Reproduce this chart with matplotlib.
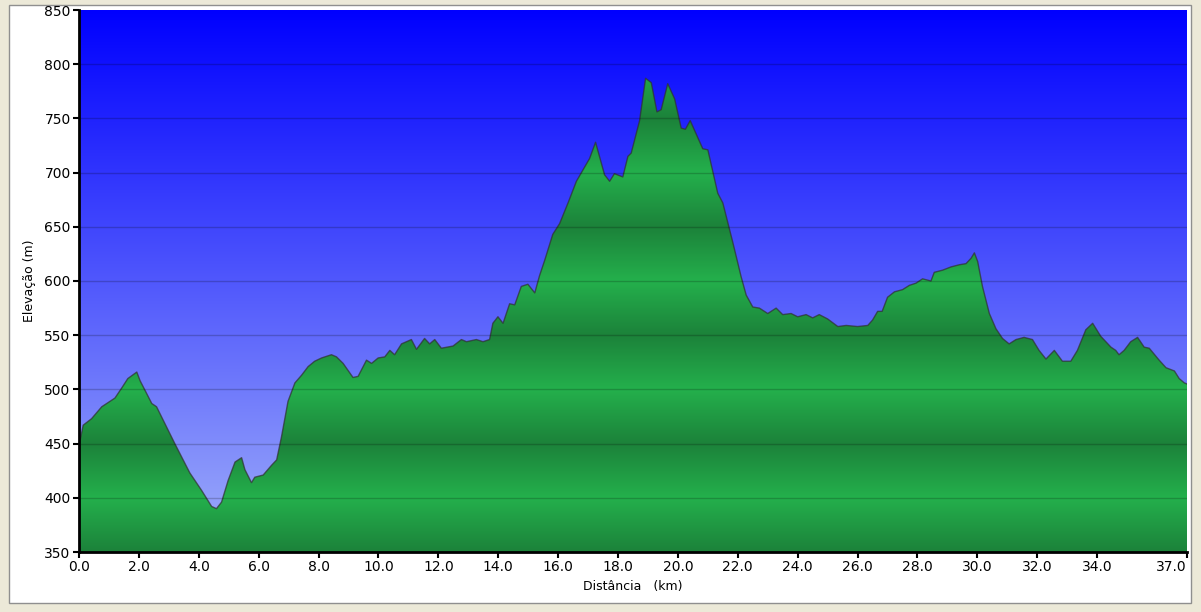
"""Elevation profile: distance (km) vs elevation (m)."""

import matplotlib
matplotlib.use("Agg")
import matplotlib.pyplot as plt
from matplotlib.patches import Rectangle
import numpy as np

plt.rcParams.update({
    "font.family": "DejaVu Sans",
    "xtick.labelsize": 10,
    "ytick.labelsize": 10,
})

distance_km = [
    0.00, 0.14, 0.42, 0.76, 1.20, 1.42, 1.63, 1.93, 2.04, 2.43, 2.59, 3.20,
    3.70, 4.09, 4.43, 4.59, 4.76, 4.98, 5.21, 5.43, 5.54, 5.76, 5.87, 6.15,
    6.43, 6.60, 6.76, 6.98, 7.21, 7.43, 7.65, 7.87, 8.10, 8.43, 8.60, 8.82,
    9.15, 9.32, 9.60, 9.77, 9.99, 10.21, 10.38, 10.54, 10.77, 11.10, 11.27,
    11.54, 11.71, 11.88, 12.10, 12.49, 12.77, 12.94, 13.27, 13.49, 13.71,
    13.82, 13.99, 14.16, 14.38, 14.55, 14.77, 14.99, 15.22, 15.38, 15.55,
    15.82, 16.05, 16.33, 16.61, 16.88, 17.05, 17.25, 17.38, 17.55, 17.72,
    17.88, 18.16, 18.33, 18.44, 18.72, 18.92, 19.11, 19.30, 19.44, 19.66,
    19.89, 20.11, 20.25, 20.41, 20.83, 21.00, 21.33, 21.50, 21.83, 22.11,
    22.28, 22.50, 22.72, 23.00, 23.28, 23.50, 23.78, 24.00, 24.28, 24.50,
    24.72, 25.00, 25.34, 25.62, 26.00, 26.34, 26.50, 26.67, 26.82, 27.00,
    27.23, 27.50, 27.73, 27.95, 28.17, 28.45, 28.56, 28.84, 29.12, 29.40,
    29.62, 29.79, 29.90, 30.01, 30.17, 30.40, 30.62, 30.84, 31.06, 31.29,
    31.56, 31.84, 32.06, 32.29, 32.57, 32.84, 33.12, 33.34, 33.62, 33.85,
    34.12, 34.46, 34.62, 34.73, 34.90, 35.12, 35.35, 35.57, 35.74, 36.07,
    36.30, 36.58, 36.74, 36.91, 37.00,
]
elevation_m = [
    448, 467, 473, 484, 492, 501, 510, 516, 508, 487, 484, 450,
    423, 407, 392, 390, 396, 416, 433, 437, 426, 414, 419, 421,
    430, 435, 456, 489, 506, 513, 521, 526, 529, 532, 530, 524,
    511, 512, 527, 524, 529, 530, 536, 532, 542, 546, 537,
    547, 542, 546, 538, 540, 546, 544, 546, 544, 546,
    561, 567, 561, 579, 578, 595, 597, 589, 605, 619,
    643, 653, 672, 692, 705, 713, 728, 715, 698, 692,
    699, 696, 715, 718, 748, 787, 783, 756, 758, 782,
    768, 741, 740, 748, 722, 721, 681, 672, 636, 604,
    587, 576, 575, 570, 575, 569, 570, 567, 569, 566,
    569, 565, 558, 559, 558, 559, 564, 572, 572, 585,
    590, 592, 596, 598, 602, 600, 608, 610, 613, 615,
    616, 621, 626, 618, 595, 570, 556, 547, 542, 546,
    548, 546, 536, 528, 536, 526, 526, 536, 555, 561,
    549, 539, 536, 532, 536, 544, 548, 539, 538, 527,
    520, 517, 510, 506, 505,
]

x_ticks = [0, 2, 4, 6, 8, 10, 12, 14, 16, 18, 20, 22, 24, 26, 28, 30, 32, 34, 37]
y_ticks = list(range(350, 851, 50))

fig = plt.figure(figsize=(12.01, 6.12), dpi=100)
fig.patch.set_facecolor("#ECE9D8")
# white panel behind the chart
fig.add_artist(Rectangle((9 / 1201, 1 - 603 / 612), (1191 - 9) / 1201, (603 - 5) / 612,
                         transform=fig.transFigure, facecolor="white",
                         edgecolor="#8f8f8f", linewidth=1, zorder=-1))

ax = fig.add_axes([79 / 1201, 1 - 552 / 612, (1187 - 79) / 1201, (552 - 10) / 612])
xmin, xmax = 0, 37.0
ymin, ymax = 350, 850

# sky gradient, pure blue at the top
t = np.linspace(0, 1, 256)[:, None]
top = np.array([0, 0, 255]) / 255
bot = np.array([160, 175, 250]) / 255
sky = (top + (bot - top) * t).reshape(256, 1, 3)
ax.imshow(sky, extent=[xmin, xmax, ymin, ymax], aspect="auto", zorder=0)

# banded green fill (light at hundreds, dark at fifties)
yy = np.linspace(ymin, ymax, 1000)
phase = np.abs(((yy - 350) % 100) - 50) / 50
light = np.array([36, 176, 76]) / 255
dark = np.array([28, 130, 58]) / 255
band = light + (dark - light) * phase[:, None]
band = band[::-1].reshape(-1, 1, 3)
fill = ax.fill_between(distance_km, elevation_m, ymin, facecolor="none", edgecolor="none")
im = ax.imshow(band, extent=[xmin, xmax, ymin, ymax], aspect="auto", zorder=1)
im.set_clip_path(fill.get_paths()[0], transform=ax.transData)
ax.plot(distance_km, elevation_m, color="#303030", linewidth=1.0, alpha=0.7, zorder=2)

for yv in y_ticks[1:-1]:
    ax.axhline(yv, color="black", alpha=0.2, linewidth=1, zorder=3)

ax.set_xlim(xmin, xmax)
ax.set_ylim(ymin, ymax)
ax.set_xticks(x_ticks)
ax.set_xticklabels([f"{v:.1f}" for v in x_ticks])
ax.get_xticklabels()[-1].set_horizontalalignment("right")
ax.set_yticks(y_ticks)
ax.spines["top"].set_visible(False)
ax.spines["right"].set_visible(False)
ax.spines["left"].set_linewidth(2)
ax.spines["bottom"].set_linewidth(2)
ax.tick_params(direction="out", length=4, width=1.5, colors="black", pad=2)
ax.set_xlabel("Distância   (km)", fontsize=9, labelpad=4)
ax.set_ylabel("Elevação (m)", fontsize=9, labelpad=6)

fig.savefig("out.png", dpi=100, facecolor=fig.get_facecolor())
